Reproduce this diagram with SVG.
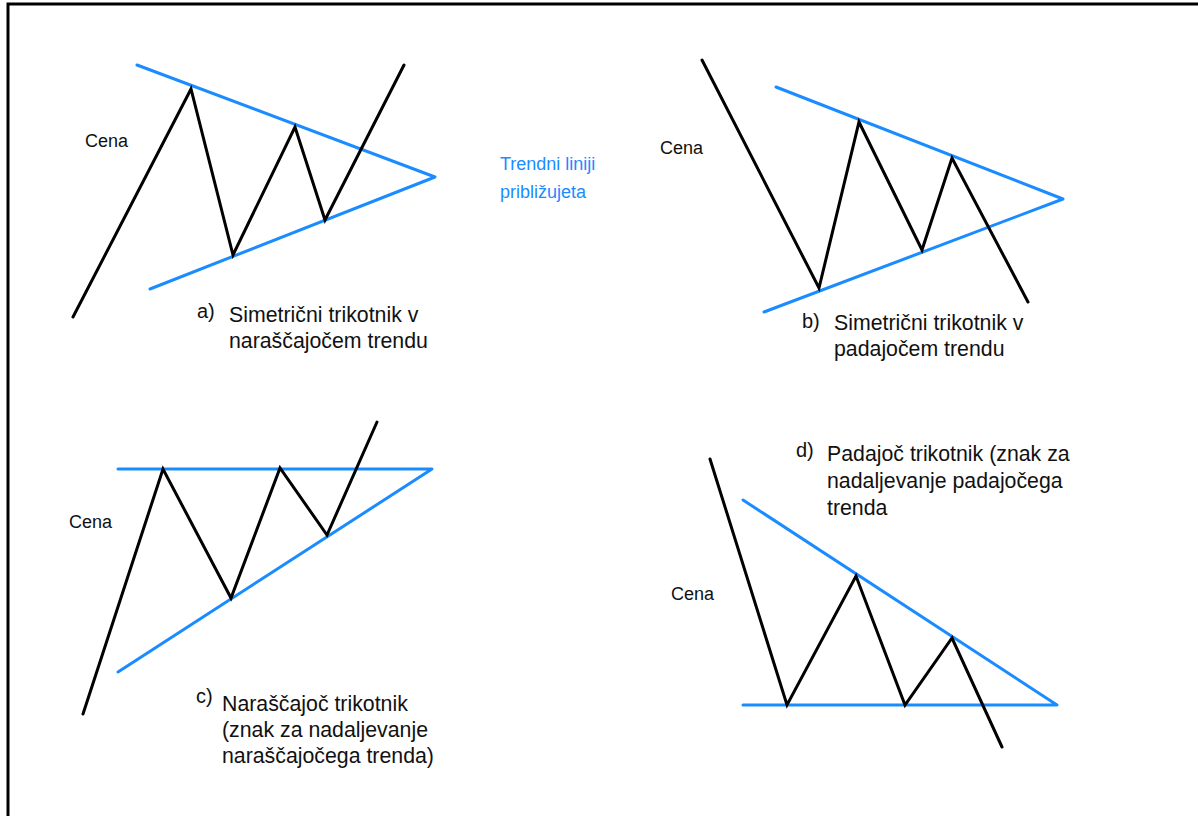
<svg xmlns="http://www.w3.org/2000/svg" width="1198" height="816" viewBox="0 0 1198 816">
<style>
.bg{fill:#ffffff}
.frame{fill:none;stroke:#000;stroke-width:3}
.price{fill:none;stroke:#000;stroke-width:3;stroke-linejoin:miter;stroke-linecap:round}
.trend{fill:none;stroke:#1a8cff;stroke-width:3;stroke-linecap:round;stroke-linejoin:round}
.t{font-family:"Liberation Sans",Arial,sans-serif;fill:#111}
.cena{font-size:18px}
.lbl{font-size:21.3px}
.mk{font-size:20px}
.blue{font-family:"Liberation Sans",Arial,sans-serif;font-size:18px;fill:#1a8cff}
</style>
<rect class="bg" x="0" y="0" width="1198" height="816"/>
<path class="frame" d="M8,816 V4 H1198"/>

<g id="connectors">
  <!-- panel a -->
  <polyline class="trend" points="137,65 435,177 150,289"/>
  <polyline class="price" points="73,317 191,89 233,255 295,127 325,220 404,65"/>
  <!-- panel b -->
  <polyline class="trend" points="776,87 1063,199 764,312"/>
  <polyline class="price" points="702,60 819,288 859,122 922,250 952,158 1028,302"/>
  <!-- panel c -->
  <polyline class="trend" points="118,469 432,469 118,672"/>
  <polyline class="price" points="83,714 163,469 231,598 280,468 327,535 377,422"/>
  <!-- panel d -->
  <polyline class="trend" points="743,500 1057,705 743,705"/>
  <polyline class="price" points="710,459 787,705 856,576 905,705 952,638 1002,747"/>
</g>

<g id="panel-a">
  <text class="t cena" x="85" y="147">Cena</text>
  <text class="t mk" x="197" y="318">a)</text>
  <text class="t lbl" x="229" y="322">Simetrični trikotnik v</text>
  <text class="t lbl" x="229" y="348">naraščajočem trendu</text>
</g>

<g id="note">
  <text class="blue" x="500" y="170">Trendni liniji</text>
  <text class="blue" x="500" y="198">približujeta</text>
</g>

<g id="panel-b">
  <text class="t cena" x="660" y="154">Cena</text>
  <text class="t mk" x="802" y="328">b)</text>
  <text class="t lbl" x="834" y="330">Simetrični trikotnik v</text>
  <text class="t lbl" x="834" y="356">padajočem trendu</text>
</g>

<g id="panel-c">
  <text class="t cena" x="69" y="528">Cena</text>
  <text class="t mk" x="196" y="703">c)</text>
  <text class="t lbl" x="222" y="711">Naraščajoč trikotnik</text>
  <text class="t lbl" x="222" y="737">(znak za nadaljevanje</text>
  <text class="t lbl" x="222" y="763">naraščajočega trenda)</text>
</g>

<g id="panel-d">
  <text class="t cena" x="671" y="600">Cena</text>
  <text class="t mk" x="796" y="457">d)</text>
  <text class="t lbl" x="827" y="461">Padajoč trikotnik (znak za</text>
  <text class="t lbl" x="827" y="488">nadaljevanje padajočega</text>
  <text class="t lbl" x="827" y="515">trenda</text>
</g>
</svg>
